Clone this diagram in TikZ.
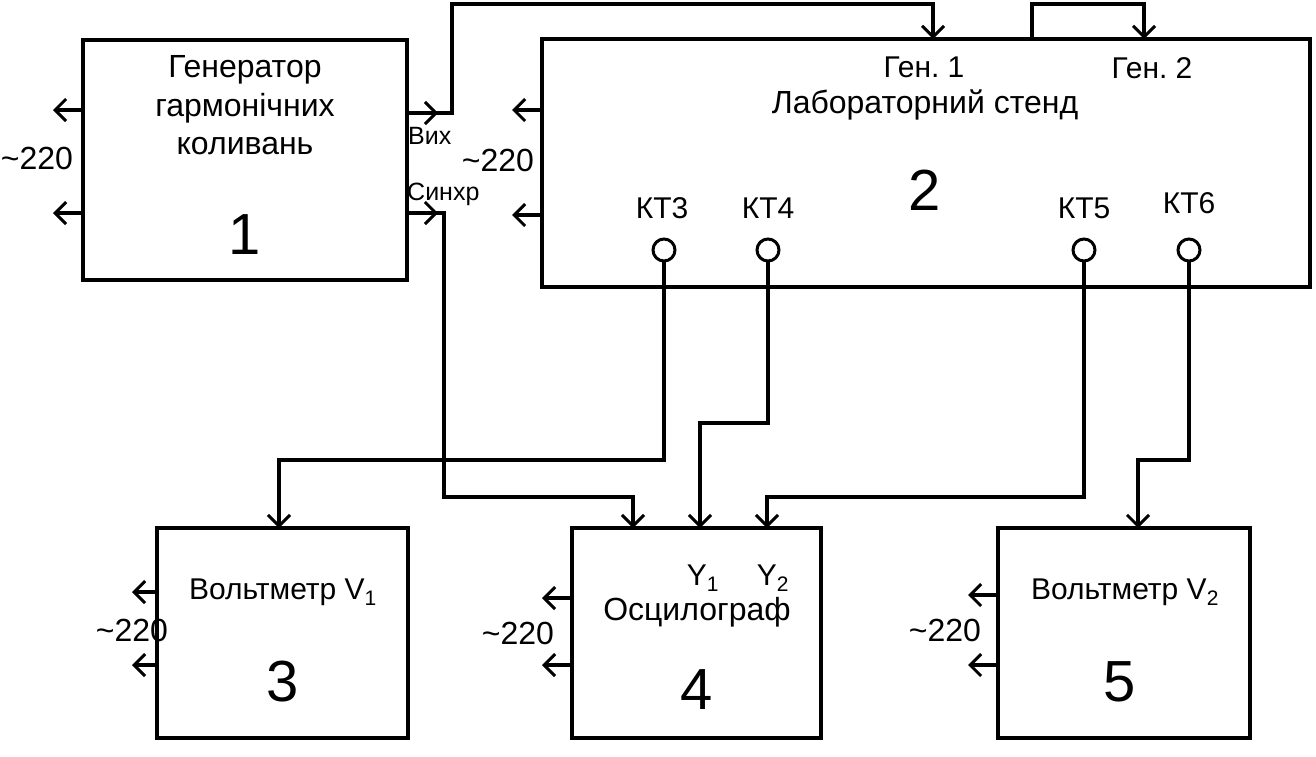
\documentclass[tikz,border=0pt]{standalone}
\usepackage{fontspec}
\setmainfont{Liberation Sans}
\usetikzlibrary{arrows.meta}
\begin{document}
\frenchspacing
\begin{tikzpicture}[x=1pt,y=-1pt,
  wire/.style={line width=3.2pt},
  arr/.style={wire,-{Straight Barb[length=11pt,width=22pt,line width=3pt]}},
  blk/.style={draw,line width=3.4pt,rectangle,inner sep=0pt,outer sep=0pt},
  lbl/.style={font=\fontsize{32}{34}\selectfont,inner sep=0pt},
  ktl/.style={font=\fontsize{30}{32}\selectfont,inner sep=0pt},
  small/.style={font=\fontsize{25}{27}\selectfont,inner sep=0pt},
  big/.style={font=\fontsize{58}{60}\selectfont,inner sep=0pt},
  kt/.style={draw,circle,line width=3pt,minimum size=22pt,inner sep=0pt,outer sep=0pt}]
\useasboundingbox (0,0) rectangle (1316,756);

% blocks
\node[blk,minimum width=324pt,minimum height=240pt] (b1) at (245,160) {};
\node[blk,minimum width=768pt,minimum height=248pt] (b2) at (926,163) {};
\node[blk,minimum width=251pt,minimum height=210pt] (b3) at (282.5,633) {};
\node[blk,minimum width=249pt,minimum height=210pt] (b4) at (696.5,633) {};
\node[blk,minimum width=252pt,minimum height=210pt] (b5) at (1124,633) {};

% block 1 texts
\node[lbl] (t1a) at (245,70) {Генератор};
\node[lbl] (t1b) at (245,108) {гармонічних};
\node[lbl] (t1c) at (245,146) {коливань};
\node[big] (n1) at (245,235) {1};
\node[small,anchor=west] (vyh) at (408,136) {Вих};
\node[small,anchor=west] (synh) at (407,194) {Синхр};

% block 2 texts
\node[ktl] (g1) at (924,67) {Ген. 1};
\node[ktl] (g2) at (1152,68) {Ген. 2};
\node[lbl] (lab) at (925,105) {Лабораторний стенд};
\node[big] (n2) at (925,190) {2};
\node[ktl] (l3) at (662,208) {КТ3};
\node[ktl] (l4) at (768,208) {КТ4};
\node[ktl] (l5) at (1084,208) {КТ5};
\node[ktl] (l6) at (1189,203) {КТ6};
\node[kt] (kt3) at (664,250) {};
\node[kt] (kt4) at (768,250) {};
\node[kt] (kt5) at (1084,250) {};
\node[kt] (kt6) at (1189,250) {};

% blocks 3-5 texts
\node[ktl] (t3) at (283,592) {Вольтметр V\textsubscript{1}};
\node[big] (n3) at (283,682) {3};
\node[ktl] (y1) at (703,578) {Y\textsubscript{1}};
\node[ktl] (y2) at (773,578) {Y\textsubscript{2}};
\node[lbl] (t4) at (697,612) {Осцилограф};
\node[big] (n4) at (697,690) {4};
\node[ktl] (t5) at (1125,592) {Вольтметр V\textsubscript{2}};
\node[big] (n5) at (1120,682) {5};

% mains supply labels
\node[lbl] (m1) at (37,158) {\char"007E 220};
\node[lbl] (m2) at (498,160) {\char"007E 220};
\node[lbl] (m3) at (132,630) {\char"007E 220};
\node[lbl] (m4) at (518,633) {\char"007E 220};
\node[lbl] (m5) at (945,630) {\char"007E 220};

% mains arrows
\draw[arr] (b1.west |- 0,110) -- ++(-30,0);
\draw[arr] (b1.west |- 0,213) -- ++(-30,0);
\draw[arr] (b2.west |- 0,110) -- ++(-30,0);
\draw[arr] (b2.west |- 0,215) -- ++(-30,0);
\draw[arr] (b3.west |- 0,592) -- ++(-25,0);
\draw[arr] (b3.west |- 0,665) -- ++(-25,0);
\draw[arr] (b4.west |- 0,598) -- ++(-30,0);
\draw[arr] (b4.west |- 0,665) -- ++(-30,0);
\draw[arr] (b5.west |- 0,595) -- ++(-30,0);
\draw[arr] (b5.west |- 0,665) -- ++(-30,0);

% generator outputs
\coordinate (gen1in) at (933,0 |- b2.north);
\coordinate (gen2in) at (1144,0 |- b2.north);
\coordinate (gen2out) at (1032,0 |- b2.north);
\draw[arr] (b1.east |- 0,113) -- ++(31,0);
\draw[arr] (b1.east |- 0,113) -| (452,4) -| (gen1in);
\draw[arr] (b1.east |- 0,213) -- ++(31,0);
\coordinate (syncin) at (633,0 |- b4.north);
\draw[arr] (b1.east |- 0,213) -| (444,497) -| (syncin);
\draw[arr] (gen2out) |- (1088,4) -| (gen2in);

% test point connections
\coordinate (in3) at (279,0 |- b3.north);
\coordinate (y1in) at (700,0 |- b4.north);
\coordinate (y2in) at (767,0 |- b4.north);
\coordinate (in5) at (1138,0 |- b5.north);
\draw[arr] (kt3.south) |- (470,460) -| (in3);
\draw[arr] (kt4.south) |- (730,423) -| (y1in);
\draw[arr] (kt5.south) |- (900,497) -| (y2in);
\draw[arr] (kt6.south) |- (1160,460) -| (in5);
\end{tikzpicture}
\end{document}
